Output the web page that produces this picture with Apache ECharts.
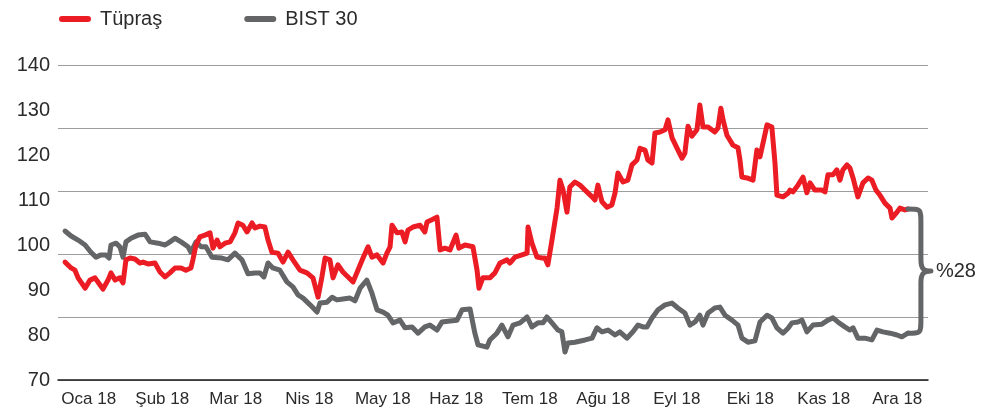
<!DOCTYPE html>
<html>
<head>
<meta charset="utf-8">
<script src="https://cdn.jsdelivr.net/npm/echarts@6/dist/echarts.min.js"></script>
<style>
  html, body { margin: 0; padding: 0; background: #fff; }
  #main { width: 1001px; height: 412px; }
</style>
</head>
<body>
<div id="main"></div>
<script>
var months = ['Oca 18', 'Şub 18', 'Mar 18', 'Nis 18', 'May 18', 'Haz 18',
              'Tem 18', 'Ağu 18', 'Eyl 18', 'Eki 18', 'Kas 18', 'Ara 18'];

// gün (yılın günü) ve endeks değerleri, 100 bazlı
var bistDays = [5.4, 7.9, 10.8, 13.7, 16.1, 18.2, 20.3, 22.3, 23.6, 24.4, 26.5, 28.1, 29.4, 30.6, 32.7, 35.6, 38.5, 40.6, 43.9, 46.8,
  48.8, 50.9, 53.4, 56.3, 57.5, 59.6, 61.7, 63.7, 66.2, 70.3, 72.8, 75.7, 78.6, 81.1, 84.0, 86.1, 87.7, 89.4, 91.4, 94.3,
  97.2, 99.7, 101.8, 103.9, 106.8, 109.7, 110.9, 113.8, 115.9, 117.9, 120.4, 123.3, 125.4, 127.5, 130.3, 132.4, 134.5, 137.0, 139.0, 141.1,
  144.0, 146.1, 149.0, 151.5, 154.3, 156.4, 159.3, 161.4, 164.7, 167.6, 169.7, 173.0, 175.0, 176.3, 180.0, 181.2, 184.1, 186.2, 188.7, 190.8,
  193.7, 196.6, 198.6, 201.1, 203.2, 204.8, 206.9, 209.4, 211.0, 212.3, 213.5, 216.4, 220.6, 223.5, 225.5, 227.6, 230.1, 233.0, 235.0, 237.9,
  240.4, 242.5, 244.6, 246.2, 248.3, 250.8, 253.7, 256.6, 259.0, 261.9, 264.0, 266.1, 268.1, 269.4, 271.5, 274.3, 276.4, 278.5, 281.4, 283.9,
  285.5, 288.0, 290.9, 293.0, 295.9, 297.9, 300.0, 302.5, 304.6, 306.2, 308.7, 310.4, 312.4, 314.9, 318.6, 321.1, 323.2, 325.2, 328.1, 330.2,
  331.5, 333.5, 336.4, 339.3, 341.4, 343.9, 346.8, 349.7, 351.7, 354.2];
var bistValues = [103.1, 102, 101.1, 100, 98.4, 97.3, 97.8, 97.8, 97.1, 100, 100.4, 99.6, 97.3, 100.7, 101.5, 102.2, 102.4, 100.7, 100.4, 100,
  100.7, 101.5, 100.7, 99.6, 98.4, 100.7, 99.6, 99.6, 97.3, 97.1, 96.7, 98.2, 96.7, 93.6, 93.8, 93.8, 92.9, 96, 94.9, 94.4,
  91.8, 90.7, 88.9, 88.2, 86.7, 85.1, 87.1, 87.3, 88.4, 87.8, 88, 88.2, 87.6, 90.4, 92.2, 89.3, 85.6, 85.1, 84.4, 82.7,
  83.3, 81.6, 81.8, 80.4, 81.8, 82.2, 81.1, 82.9, 83.1, 83.3, 85.6, 85.8, 80.4, 77.8, 77.3, 78.9, 80.4, 82.2, 79.6, 82.2,
  82.7, 84, 81.8, 82.7, 82.7, 84, 82.7, 81.1, 80.7, 76.2, 78.2, 78.4, 78.9, 79.3, 81.6, 80.7, 81.1, 80, 80.7, 79.3,
  80.7, 82.2, 81.8, 81.8, 83.8, 85.6, 86.7, 87.1, 86, 84.9, 82.2, 82.9, 84.4, 82.2, 84.9, 86, 86.2, 84.4, 83.3, 82.2,
  79.3, 78.4, 78.7, 82.9, 84.4, 83.8, 81.6, 80.4, 81.5, 82.7, 82.9, 83.3, 80.7, 82.2, 82.4, 83.3, 83.8, 82.9, 81.8, 81.1,
  81.6, 79.3, 79.3, 78.9, 81.1, 80.7, 80.4, 80, 79.6, 80.4];

var tuprasDays = [5.4, 7.9, 9.5, 10.8, 13.7, 15.7, 17.8, 19.9, 21.1, 23.2, 24.4, 26.1, 28.1, 29.4, 30.6, 32.3, 34.3, 36.4, 37.7, 39.7,
  42.6, 44.7, 46.8, 48.8, 50.9, 53.4, 55.4, 57.5, 58.3, 59.6, 61.2, 63.3, 65.4, 66.6, 68.3, 69.5, 71.6, 73.7, 75.7, 77.0,
  79.0, 80.7, 82.8, 84.0, 86.1, 88.1, 89.4, 91.0, 93.5, 95.6, 97.7, 99.7, 102.6, 105.5, 108.0, 110.1, 111.7, 113.0, 115.0, 116.3,
  118.3, 120.4, 122.5, 124.6, 126.6, 128.7, 130.8, 132.4, 134.5, 137.0, 138.6, 139.9, 140.7, 142.8, 144.8, 146.1, 147.3, 149.4, 152.3, 154.3,
  155.2, 157.2, 159.3, 160.6, 162.6, 164.7, 167.2, 168.4, 170.9, 174.2, 175.9, 176.7, 178.3, 181.2, 183.3, 185.4, 188.3, 189.5, 191.6, 194.5,
  196.6, 197.0, 198.6, 200.7, 202.8, 204.0, 205.2, 206.9, 209.0, 210.2, 211.5, 213.1, 214.3, 216.4, 218.5, 220.6, 223.5, 224.7, 225.9, 227.6,
  229.7, 231.7, 233.0, 234.2, 236.3, 238.3, 240.0, 242.1, 243.3, 245.4, 246.6, 248.3, 249.5, 251.6, 253.7, 254.9, 256.6, 258.6, 260.7, 261.9,
  263.2, 264.8, 266.9, 268.1, 269.4, 271.5, 274.3, 275.6, 276.8, 277.7, 279.3, 281.8, 283.9, 284.7, 285.5, 287.6, 290.1, 291.7, 293.0, 295.9,
  297.9, 299.2, 300.0, 302.5, 304.6, 305.4, 306.6, 308.7, 310.8, 312.4, 313.7, 315.7, 318.6, 319.9, 321.1, 323.2, 324.8, 326.1, 327.3, 329.0,
  330.2, 331.5, 333.5, 335.6, 337.7, 339.3, 341.0, 342.6, 344.7, 346.8, 347.6, 349.7, 350.9, 353.0, 354.2];
var tuprasValues = [96.2, 94.9, 94.4, 92.7, 90.4, 92.2, 92.7, 91.1, 90.2, 92.2, 93.8, 92.2, 92.7, 91.6, 96.7, 97.1, 96.9, 96, 96.2, 95.8,
  96, 94, 92.9, 93.8, 94.9, 94.9, 94.4, 94.9, 96.7, 100, 101.8, 102.2, 102.7, 99.3, 101.1, 99.6, 100.4, 100.7, 102.7, 104.9,
  104.4, 102.9, 104.9, 103.8, 104.2, 104, 101.1, 98.4, 98.2, 96.2, 98.4, 96.7, 94.4, 93.8, 92.7, 88.4, 92.9, 97.1, 96.7, 92.7,
  95.6, 94, 92.9, 91.8, 94.4, 97.1, 99.6, 97.3, 97.8, 96, 98.2, 99.6, 104.4, 102.7, 102.9, 100.7, 103.3, 104, 104.4, 102.9,
  105.1, 105.6, 106.2, 98.9, 99.3, 98.9, 102.2, 99.3, 100, 99.6, 94.4, 90.4, 92.7, 92.7, 93.8, 96, 96.7, 96, 97.3, 97.8,
  98.2, 104, 100.4, 97.3, 97.1, 97.1, 95.6, 101.1, 108.2, 114.4, 112.2, 107.3, 112.9, 114, 113.3, 112.2, 110.7, 110, 113.3, 109.6,
  108.4, 108.9, 111.6, 116, 114, 114.4, 117.8, 118.9, 121.5, 121.1, 118.9, 118.2, 124.9, 125.1, 125.6, 127.8, 123.8, 121.6, 119.3, 120.4,
  126.4, 124.2, 125.6, 131.1, 126.2, 126.2, 125.1, 126, 130.4, 127.8, 124.4, 122.2, 121.6, 118.9, 115.1, 114.9, 114.4, 121.1, 119.6, 126.7,
  126.2, 118.2, 111.1, 110.7, 111.5, 112.2, 111.8, 113.3, 115.1, 111.6, 113.8, 112.2, 112.2, 111.8, 115.6, 115.6, 116.7, 114.4, 116.7, 117.8,
  117.1, 114.9, 110.7, 113.8, 114.9, 114.4, 112.2, 111.1, 109.3, 108.2, 106, 107.3, 108.2, 107.8, 108];

var diffLabel = '%28';

var red = '#ec1c24';
var grey = '#646567';
var txt = '#2b2b2b';
var font = 'Liberation Sans, Arial, sans-serif';

function pairs(xs, ys) {
  var out = [];
  for (var i = 0; i < xs.length; i++) out.push([xs[i], ys[i]]);
  return out;
}

// son değerleri birleştiren süslü parantez
var braceData = [[
  tuprasDays[tuprasDays.length - 1],
  tuprasValues[tuprasValues.length - 1],
  bistValues[bistValues.length - 1]
]];

function renderBrace(params, api) {
  var p1 = api.coord([api.value(0), api.value(1)]);
  var p2 = api.coord([api.value(0), api.value(2)]);
  var xr = p1[0] + 13;
  var tip = xr + 10;
  var my = (p1[1] + p2[1]) / 2;
  var d = 'M' + p1[0] + ',' + p1[1] +
    ' C' + xr + ',' + p1[1] + ' ' + xr + ',' + p1[1] + ' ' + xr + ',' + (p1[1] + 14) +
    ' L' + xr + ',' + (my - 12) +
    ' C' + xr + ',' + (my - 3) + ' ' + (xr + 2) + ',' + my + ' ' + tip + ',' + my +
    ' C' + (xr + 2) + ',' + my + ' ' + xr + ',' + (my + 3) + ' ' + xr + ',' + (my + 12) +
    ' L' + xr + ',' + (p2[1] - 14) +
    ' C' + xr + ',' + p2[1] + ' ' + xr + ',' + p2[1] + ' ' + p2[0] + ',' + p2[1];
  return {
    type: 'group',
    children: [
      {
        type: 'path', shape: { pathData: d },
        style: { fill: null, stroke: grey, lineWidth: 5, lineCap: 'round', lineJoin: 'round' }
      },
      {
        type: 'text', x: tip + 5, y: my,
        style: { text: diffLabel, fontSize: 20, fill: txt, verticalAlign: 'middle', fontFamily: font }
      }
    ]
  };
}

var myChart = echarts.init(document.getElementById('main'));
var option = {
  animation: false,
  textStyle: { fontFamily: font },
  legend: {
    data: ['Tüpraş', 'BIST 30'],
    left: 54,
    top: 4,
    itemWidth: 32,
    itemHeight: 6,
    itemGap: 82,
    icon: 'path://M3,0 L29,0 A3,3 0 0 1 29,6 L3,6 A3,3 0 0 1 3,0 Z',
    textStyle: { fontSize: 20, color: txt, padding: [0, 0, 0, 4] }
  },
  grid: [
    { left: 52, right: 67, top: 65, bottom: 32 },
    { left: 58, right: 73, top: 65, bottom: 32 }
  ],
  xAxis: [
    {
      type: 'category', gridIndex: 0, data: months, boundaryGap: true,
      axisLine: { show: false }, axisTick: { show: false },
      axisLabel: { fontSize: 17, color: txt, margin: 11 }
    },
    { type: 'value', gridIndex: 0, min: 0, max: 365, show: false },
    {
      type: 'value', gridIndex: 1, min: 0, max: 1,
      axisLine: { show: true, lineStyle: { color: '#1a1a1a', width: 1.5 } },
      axisTick: { show: false }, axisLabel: { show: false }, splitLine: { show: false }
    }
  ],
  yAxis: [
    { type: 'value', gridIndex: 0, min: 70, max: 140, show: false },
    {
      type: 'value', gridIndex: 1, min: 70, max: 140, interval: 10,
      axisLine: { show: false }, axisTick: { show: false }, splitLine: { show: false },
      axisLabel: { fontSize: 20, color: txt, margin: 8 }
    },
    {
      // ızgara çizgileri etiketlerden bağımsız
      type: 'value', gridIndex: 1, min: 0, max: 5, interval: 1,
      axisLine: { show: false }, axisTick: { show: false }, axisLabel: { show: false },
      splitLine: { show: true, lineStyle: { color: '#9d9d9d', width: 1.2 } }
    }
  ],
  series: [
    {
      name: 'BIST 30', type: 'line', xAxisIndex: 1, yAxisIndex: 0,
      data: pairs(bistDays, bistValues), showSymbol: false, z: 3,
      itemStyle: { color: grey },
      lineStyle: { color: grey, width: 5, cap: 'round', join: 'round' }
    },
    {
      name: 'Tüpraş', type: 'line', xAxisIndex: 1, yAxisIndex: 0,
      data: pairs(tuprasDays, tuprasValues), showSymbol: false, z: 4,
      itemStyle: { color: red },
      lineStyle: { color: red, width: 5, cap: 'round', join: 'round' }
    },
    {
      name: 'fark', type: 'custom', xAxisIndex: 1, yAxisIndex: 0,
      data: braceData, renderItem: renderBrace, clip: false, silent: true, z: 5,
      encode: { x: 0, y: [1, 2] }
    }
  ]
};
myChart.setOption(option);
</script>
</body>
</html>
